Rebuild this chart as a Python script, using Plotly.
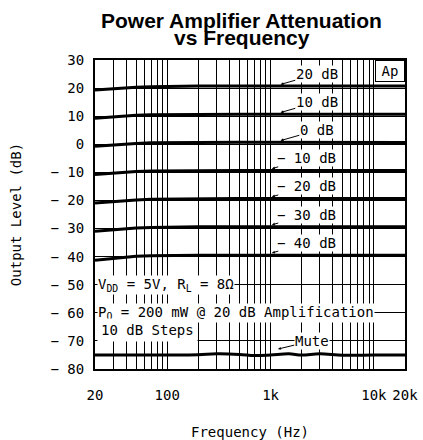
import math
import plotly.graph_objects as go

# ---- data ----
freq = [20, 30, 40, 50, 70, 100, 200, 500, 1000, 2000, 5000, 10000, 20000]
att_20 = [19.3, 19.8, 20.1, 20.3, 20.5, 20.6, 20.7, 20.7, 20.7, 20.7, 20.7, 20.7, 20.7]
att_10 = [9.3, 9.8, 10.1, 10.3, 10.5, 10.6, 10.6, 10.7, 10.7, 10.7, 10.7, 10.7, 10.7]
att_0 = [-0.7, -0.2, 0.1, 0.3, 0.5, 0.6, 0.6, 0.7, 0.7, 0.6, 0.6, 0.6, 0.6]
att_m10 = [-10.8, -10.2, -9.9, -9.7, -9.5, -9.4, -9.4, -9.3, -9.3, -9.3, -9.3, -9.3, -9.3]
att_m20 = [-20.9, -20.3, -20.0, -19.8, -19.6, -19.5, -19.4, -19.3, -19.3, -19.3, -19.3, -19.3, -19.3]
att_m30 = [-31.0, -30.4, -30.0, -29.8, -29.6, -29.5, -29.4, -29.4, -29.4, -29.4, -29.4, -29.4, -29.4]
att_m40 = [-41.3, -40.6, -40.2, -39.9, -39.7, -39.6, -39.5, -39.5, -39.5, -39.5, -39.5, -39.5, -39.5]
series = [att_20, att_10, att_0, att_m10, att_m20, att_m30, att_m40]
series_labels = ["20 dB", "10 dB", "0 dB", "− 10 dB", "− 20 dB", "− 30 dB", "− 40 dB"]
label_levels = [20, 10, 0, -10, -20, -30, -40]
label_freq = [2800, 2800, 2800, 2250, 2250, 2250, 2250]
tip_freq = [1250, 1250, 1250, 1030, 1030, 1030, 1030]

mute_freq = [20, 50, 100, 200, 300, 500, 700, 1000, 1500, 2000, 3000, 5000, 10000, 20000]
mute_val = [-75.0, -75.0, -75.0, -74.9, -74.6, -74.8, -75.2, -75.0, -74.6, -75.0, -74.6, -75.1, -75.0, -75.0]

x_grid = [20, 30, 40, 50, 60, 70, 80, 90, 100, 200, 300, 400, 500, 600, 700, 800, 900,
          1000, 2000, 3000, 4000, 5000, 6000, 7000, 8000, 9000, 10000, 20000]
x_tickvals = [20, 100, 1000, 10000, 20000]
x_ticktext = ["20", "100", "1k", "10k", "20k"]
y_tickvals = [30, 20, 10, 0, -10, -20, -30, -40, -50, -60, -70, -80]
y_ticktext = ["30", "20", "10", "0", "− 10", "− 20", "− 30", "− 40", "− 50", "− 60", "− 70", "− 80"]

MONO = "DejaVu Sans Mono"
FONT = dict(family=MONO, size=14, color="black")
TITLE_FONT = dict(family="Liberation Sans", size=21, color="black")
lg = math.log10  # annotations on a log axis are positioned in log10 units

fig = go.Figure()
for s in series:
    fig.add_trace(go.Scatter(x=freq, y=s, mode="lines",
                             line=dict(color="black", width=3), showlegend=False))
fig.add_trace(go.Scatter(x=mute_freq, y=mute_val, mode="lines",
                         line=dict(color="black", width=3, shape="spline"), showlegend=False))

annotations = []
for lab, lev, lf, tf in zip(series_labels, label_levels, label_freq, tip_freq):
    annotations.append(dict(
        x=lg(tf), y=lev + 1.3, xref="x", yref="y", text=lab,
        showarrow=True, arrowhead=2, arrowsize=0.6, arrowwidth=1, arrowcolor="black",
        ax=lg(lf), ay=lev + 5, axref="x", ayref="y",
        font=FONT, bgcolor="white", borderpad=0,
    ))
annotations.append(dict(
    x=lg(1180), y=-72.9, xref="x", yref="y", text="Mute",
    showarrow=True, arrowhead=2, arrowsize=0.6, arrowwidth=1, arrowcolor="black",
    ax=lg(2500), ay=-70, axref="x", ayref="y",
    font=FONT, bgcolor="white", borderpad=0,
))
annotations += [
    dict(x=0.006, y=-50, xref="paper", yref="y", xanchor="left", yanchor="middle",
         text="V<sub>DD</sub> = 5V, R<sub>L</sub> = 8Ω", showarrow=False,
         font=FONT, bgcolor="white", borderpad=0),
    dict(x=0.006, y=-60, xref="paper", yref="y", xanchor="left", yanchor="middle",
         text="P<sub>O</sub> = 200 mW @ 20 dB Amplification", showarrow=False,
         font=FONT, bgcolor="white", borderpad=0),
    dict(x=0.005, y=-66.2, xref="paper", yref="y", xanchor="left", yanchor="middle",
         text="10 dB Steps", showarrow=False,
         font=FONT, bgcolor="white", borderpad=3),
    dict(x=1, y=1, xref="paper", yref="paper", xanchor="right", yanchor="top",
         text="Ap", showarrow=False, width=26, height=18,
         font=FONT, bgcolor="white", bordercolor="black", borderwidth=1, borderpad=1),
    dict(x=0.474, y=1.1294, xref="paper", yref="paper", xanchor="center", yanchor="middle",
         text="<b>Power Amplifier Attenuation</b>", showarrow=False, font=TITLE_FONT),
    dict(x=0.474, y=1.0744, xref="paper", yref="paper", xanchor="center", yanchor="middle",
         text="<b>vs Frequency</b>", showarrow=False, font=TITLE_FONT),
]

fig.update_layout(
    width=423, height=440,
    margin=dict(l=95, r=18, t=60, b=71, autoexpand=False),
    paper_bgcolor="white", plot_bgcolor="white",
    annotations=annotations,
    font=FONT,
    showlegend=False,
)
fig.update_xaxes(
    type="log", range=[lg(20), lg(20000)],
    tickmode="array", tickvals=x_tickvals, ticktext=x_ticktext,
    showgrid=True, gridcolor="black", gridwidth=1,
    minor=dict(tickmode="array", tickvals=x_grid, showgrid=True, gridcolor="black", gridwidth=1),
    showline=True, linecolor="black", linewidth=2, mirror=True,
    ticks="", ticklabelstandoff=12, tickfont=FONT,
    title=dict(text="Frequency (Hz)", standoff=26, font=FONT),
    zeroline=False,
)
fig.update_yaxes(
    range=[-80, 30], tickmode="array", tickvals=y_tickvals, ticktext=y_ticktext,
    showgrid=True, gridcolor="black", gridwidth=1,
    showline=True, linecolor="black", linewidth=2, mirror=True,
    ticks="", ticklabelstandoff=6, tickfont=FONT,
    title=dict(text="Output Level (dB)", standoff=26, font=FONT),
    zeroline=False,
)

fig.write_html("out.html", config={"displayModeBar": False},
               post_script="document.body.style.margin='0';")
